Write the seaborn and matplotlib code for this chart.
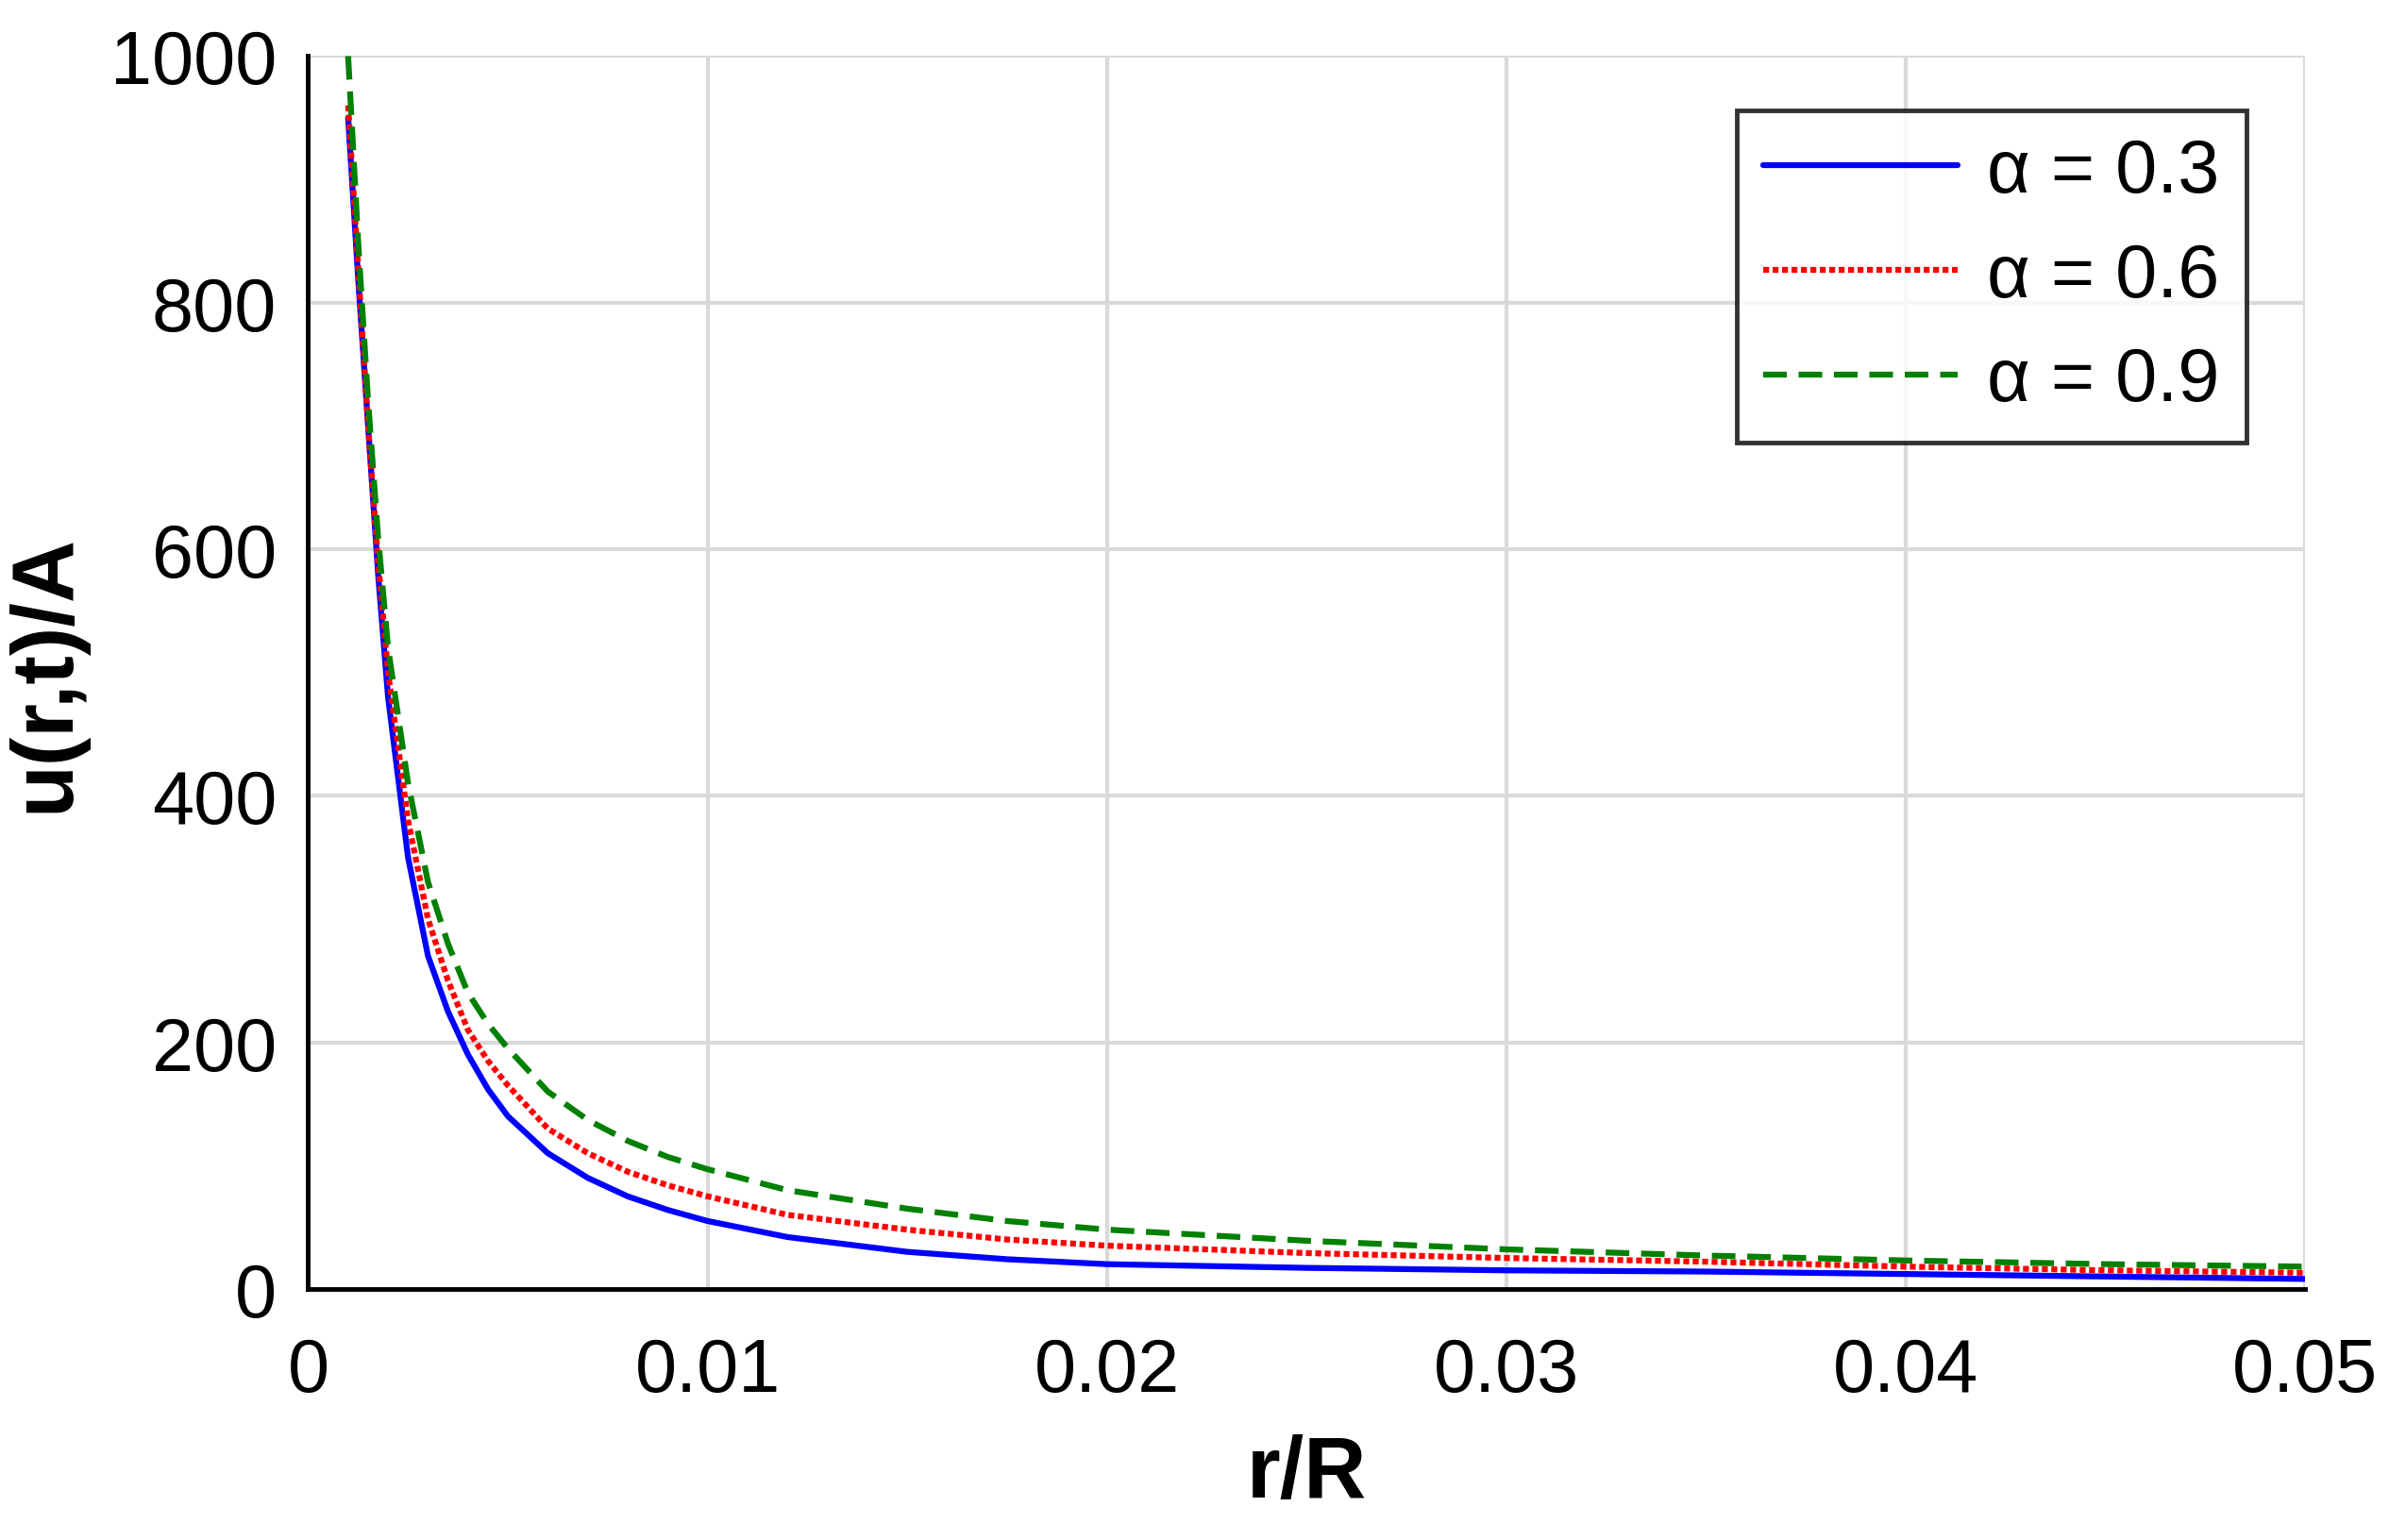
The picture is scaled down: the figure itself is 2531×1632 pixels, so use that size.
import matplotlib
matplotlib.use("Agg")
import matplotlib.pyplot as plt
import seaborn as sns
import pandas as pd

r = [0.001, 0.00125, 0.0015, 0.00175, 0.002, 0.0025, 0.003, 0.0035, 0.004, 0.0045, 0.005, 0.006, 0.007, 0.008, 0.009, 0.01, 0.012, 0.015, 0.0175, 0.02, 0.025, 0.03, 0.035, 0.04, 0.045, 0.05]
u_03 = [950, 820, 700, 580, 480, 350, 270, 225, 190, 162, 140, 110, 90, 75, 64, 55, 42, 30, 24, 20, 17, 15, 14, 12, 10, 8]
u_06 = [960, 830, 700, 590, 500, 380, 300, 250, 210, 185, 165, 130, 110, 95, 84, 75, 60, 48, 40, 35, 29, 25, 22, 18, 15, 13]
u_09 = [1000, 850, 720, 610, 520, 410, 330, 280, 240, 215, 195, 160, 137, 120, 107, 97, 80, 65, 55, 48, 39, 32, 27, 23, 20, 18]
labels = ["α = 0.3", "α = 0.6", "α = 0.9"]

sns.set_theme(style="whitegrid")
plt.rcParams['font.family'] = ['Liberation Sans', 'DejaVu Sans']

fig = plt.figure(figsize=(25.31, 16.33), dpi=100)
ax = fig.add_axes([0.129, 0.163, 0.836, 0.800])

styles = [("#0000ff", None, u_03), ("#ff0000", (1.0, 0.6), u_06), ("#008000", (4, 2), u_09)]
for (col, dash, vals), lab in zip(styles, labels):
    df = pd.DataFrame({"r": r, "u": vals})
    sns.lineplot(data=df, x="r", y="u", ax=ax, color=col, linewidth=4.5, label=lab)
    if dash is not None:
        ax.lines[-1].set_dashes(dash)

ax.set_xlim(0, 0.05)
ax.set_ylim(0, 1000)
ax.set_xticks([0, 0.01, 0.02, 0.03, 0.04, 0.05])
ax.set_xticklabels(["0", "0.01", "0.02", "0.03", "0.04", "0.05"])
ax.set_yticks([0, 200, 400, 600, 800, 1000])
ax.tick_params(labelsize=57, colors="black")
ax.tick_params(axis="x", pad=30)
ax.tick_params(axis="y", pad=18)
ax.grid(color="#d9d9d9", linewidth=3)
for s in ["top", "right"]:
    ax.spines[s].set_visible(False)
for s in ["left", "bottom"]:
    ax.spines[s].set_color("black")
    ax.spines[s].set_linewidth(3.5)
ax.set_xlabel("r/R", fontsize=66, fontweight="bold", labelpad=20, color="black")
ax.set_ylabel("u(r,t)/A", fontsize=66, fontweight="bold", labelpad=18, color="black")
leg = ax.legend(loc="upper right", fontsize=57, frameon=True, fancybox=False,
                edgecolor="black", handlelength=2.6, handletextpad=0.4, borderpad=0.35,
                labelspacing=0.45, bbox_to_anchor=(0.989, 0.986))
leg.get_frame().set_linewidth(3.5)
for t in leg.get_texts():
    t.set_color("black")
fig.savefig("out.png", dpi=100)
